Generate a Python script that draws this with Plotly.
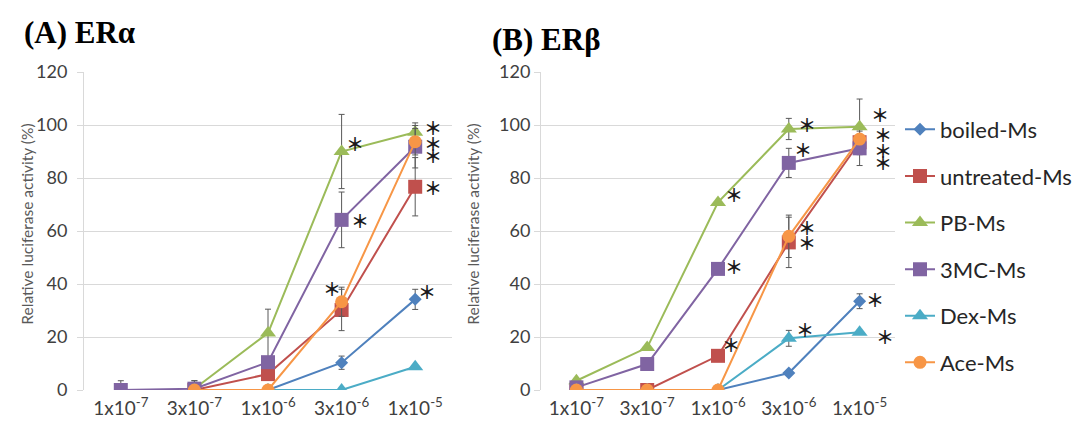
import plotly.graph_objects as go

# Concentration categories (M)
categories = ["1x10<sup>-7</sup>", "3x10<sup>-7</sup>", "1x10<sup>-6</sup>",
              "3x10<sup>-6</sup>", "1x10<sup>-5</sup>"]
cat_idx = [0, 1, 2, 3, 4]

series_names = ["boiled-Ms", "untreated-Ms", "PB-Ms", "3MC-Ms", "Dex-Ms", "Ace-Ms"]

# (A) ERα relative luciferase activity (%) and SD
era_boiled = [None, 0, 0, 10.3, 34.2]
era_untreated = [None, 0, 6, 30.2, 76.7]
era_pb = [None, 0.5, 21.5, 90, 97.3]
era_3mc = [0, 0.5, 10.5, 64.2, 91.8]
era_dex = [None, 0, 0, 0, 8.8]
era_ace = [None, 0, 0, 33.3, 93.7]

era_boiled_sd = [0, 0, 0, 2.5, 3.8]
era_untreated_sd = [0, 0, 1.5, 7.8, 11]
era_pb_sd = [0, 3, 9, 14, 3.5]
era_3mc_sd = [3.5, 3, 2, 10.5, 8]
era_dex_sd = [0, 0, 0, 0, 0]
era_ace_sd = [0, 0, 0, 5.5, 5]

# (B) ERβ relative luciferase activity (%) and SD
erb_boiled = [0, 0, 0, 6.4, 33.5]
erb_untreated = [0, 0, 12.9, 55.7, 93.5]
erb_pb = [3.5, 16, 70.8, 98.5, 99.3]
erb_3mc = [1, 9.8, 45.7, 85.7, 91.2]
erb_dex = [0, 0, 0, 19.5, 21.8]
erb_ace = [0, 0, 0, 58, 94.7]

erb_boiled_sd = [0, 0, 0, 0, 2.8]
erb_untreated_sd = [0, 0, 0, 9.5, 0]
erb_pb_sd = [0, 0, 0, 4, 10.5]
erb_3mc_sd = [0, 0, 0, 5.5, 6.5]
erb_dex_sd = [0, 0, 0, 3, 0]
erb_ace_sd = [0, 0, 0, 8, 0]

# Significance marks: (category index, value of the marked point, x offset px, y offset px)
era_marks = [(3, 90, 13, -9), (3, 64.2, 18, 0), (3, 33.3, -10, -14),
             (4, 97.3, 18, -5), (4, 93.7, 18, 1), (4, 91.8, 18, 8),
             (4, 76.7, 18, 0), (4, 34.2, 12, -8)]
erb_marks = [(3, 98.5, 18, -5), (3, 85.7, 14, -14), (2, 70.8, 16, -8),
             (2, 45.7, 16, -3), (2, 12.9, 13, -12), (3, 58, 18, -9),
             (3, 55.7, 18, 0), (3, 19.5, 16, -9), (4, 99.3, 20, -13),
             (4, 94.7, 23, -5), (4, 91.2, 23, 2), (4, 93.5, 23, 20),
             (4, 33.5, 15, -2), (4, 21.8, 25, 4)]

colors = ["#4F81BD", "#C0504D", "#9BBB59", "#8064A2", "#4BACC6", "#F79646"]
symbols = ["diamond", "square", "triangle-up", "square", "triangle-up", "circle"]
sizes = [10, 14, 14, 14, 14, 13]

era = [era_boiled, era_untreated, era_pb, era_3mc, era_dex, era_ace]
era_sd = [era_boiled_sd, era_untreated_sd, era_pb_sd, era_3mc_sd, era_dex_sd, era_ace_sd]
erb = [erb_boiled, erb_untreated, erb_pb, erb_3mc, erb_dex, erb_ace]
erb_sd = [erb_boiled_sd, erb_untreated_sd, erb_pb_sd, erb_3mc_sd, erb_dex_sd, erb_ace_sd]

FONT = "Lato"
TXT = "#404040"
GRID = "#D9D9D9"

fig = go.Figure()

for panel, (data, sds, xa, ya) in enumerate([(era, era_sd, "x", "y"), (erb, erb_sd, "x2", "y2")]):
    for i, name in enumerate(series_names):
        fig.add_trace(go.Scatter(
            x=cat_idx, y=data[i], name=name, xaxis=xa, yaxis=ya,
            mode="lines+markers", connectgaps=False,
            line=dict(color=colors[i], width=2),
            marker=dict(symbol=symbols[i], size=sizes[i], color=colors[i]),
            error_y=dict(type="data", array=sds[i], visible=True,
                         color="#595959", thickness=1, width=3),
            legendgroup=name, showlegend=(panel == 0),
        ))

annotations = []
for marks, xr, yr in [(era_marks, "x", "y"), (erb_marks, "x2", "y2")]:
    for c, v, dx, dy in marks:
        annotations.append(dict(
            x=c, y=v, xref=xr, yref=yr, text="<b>＊</b>", showarrow=False,
            xshift=dx, yshift=-dy,
            font=dict(family="Noto Sans CJK JP", size=18, color="#1a1a1a"),
        ))

# Panel titles
annotations.append(dict(x=22 / 1080, y=1, xref="paper", yref="paper", yanchor="bottom",
                        xanchor="left", yshift=20, showarrow=False, text="<b>(A) ERα</b>",
                        font=dict(family="Liberation Serif", size=31, color="#000000")))
annotations.append(dict(x=490 / 1080, y=1, xref="paper", yref="paper", yanchor="bottom",
                        xanchor="left", yshift=13, showarrow=False, text="<b>(B) ERβ</b>",
                        font=dict(family="Liberation Serif", size=31, color="#000000")))

# Y axis titles
for xpix in (16, 473):
    annotations.append(dict(x=xpix / 1080, y=0.52, xref="paper", yref="paper",
                            showarrow=False, textangle=-90,
                            text="Relative luciferase activity (%)",
                            font=dict(family=FONT, size=15.5, color="#595959")))

axis_common = dict(showgrid=False, zeroline=False, showline=False, ticks="",
                   tickvals=cat_idx, ticktext=categories, range=[-0.5, 4.5],
                   ticklabelstandoff=5,
                   tickfont=dict(family=FONT, size=19, color=TXT), fixedrange=True)
yaxis_common = dict(range=[0, 120], dtick=20, showgrid=True, gridcolor=GRID, gridwidth=1,
                    zeroline=False, showline=True, linecolor=GRID, linewidth=1,
                    ticks="outside", ticklen=6, tickcolor=GRID,
                    tickfont=dict(family=FONT, size=18, color=TXT), fixedrange=True)

fig.update_layout(
    width=1080, height=425,
    margin=dict(l=0, r=0, t=72, b=35),
    plot_bgcolor="white", paper_bgcolor="white",
    xaxis=dict(domain=[84 / 1080, 452 / 1080], anchor="y", **axis_common),
    yaxis=dict(domain=[0, 1], anchor="x", ticklabelstandoff=6, **yaxis_common),
    xaxis2=dict(domain=[541 / 1080, 895 / 1080], anchor="y2", **axis_common),
    yaxis2=dict(domain=[0, 1], anchor="x2", **yaxis_common),
    legend=dict(x=900 / 1080, y=0.885, xanchor="left", yanchor="top",
                font=dict(family=FONT, size=22, color="#262626"),
                tracegroupgap=15, bgcolor="rgba(0,0,0,0)"),
    annotations=annotations,
    showlegend=True,
)

fig.write_html("out.html")
